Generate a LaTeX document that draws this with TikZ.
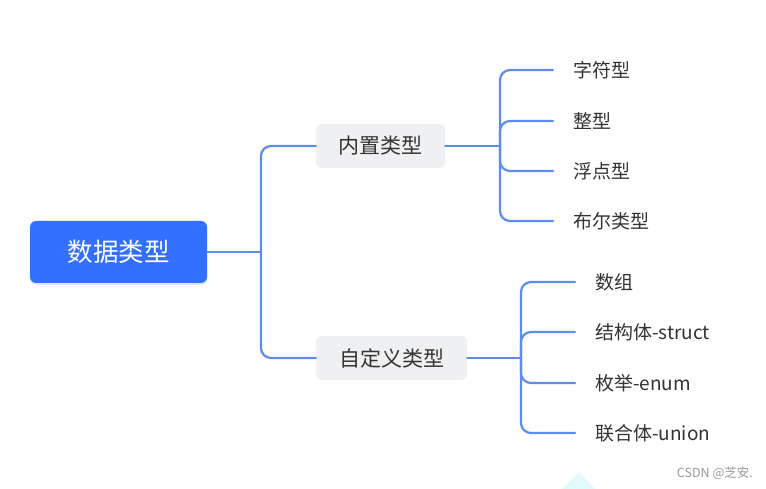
\documentclass[tikz,border=0pt]{standalone}
\usepackage{fontspec}
\setmainfont{Noto Sans CJK SC}
\usetikzlibrary{shadows}
\definecolor{rootblue}{HTML}{3370FF}
\definecolor{linkblue}{HTML}{5B8DEF}
\definecolor{boxgray}{HTML}{EFF0F2}
\definecolor{txtgray}{HTML}{333333}
\definecolor{markcyan}{HTML}{E3FAFA}
\begin{document}
\begin{tikzpicture}[x=1pt, y=-1pt, line join=round, line cap=round]
	\useasboundingbox[fill=white] (0,0) rectangle (766,489);
	\tikzset{
		rootbox/.style={fill=rootblue, text=white, rounded corners=6pt, minimum width=177pt, minimum height=62pt,
			drop shadow={shadow xshift=0pt, shadow yshift=-2pt, fill=rootblue, opacity=0.15},
			font=\fontsize{25.5}{30}\selectfont},
		midbox/.style={fill=boxgray, text=txtgray, rounded corners=6pt, minimum height=44pt, font=\fontsize{21}{25}\selectfont},
		leaf/.style={anchor=west, text=txtgray, inner xsep=20pt, inner ysep=0pt, font=\fontsize{19}{23}\selectfont},
		link/.style={draw=linkblue, line width=2.2pt, rounded corners=10pt}
	}
	\node[rootbox] (root) at (118.5,252) {数据类型};
	\node[midbox, minimum width=129pt] (builtin) at (380.5,146) {内置类型};
	\node[midbox, minimum width=151pt] (custom) at (391.5,358) {自定义类型};
	\coordinate (jroot) at (261,252);
	\coordinate (jbuiltin) at (500,146);
	\coordinate (jcustom) at (521,358);
	\draw[link] (root.east) -- (jroot) (builtin.east) -- (jbuiltin) (custom.east) -- (jcustom);
	\draw[link] (jroot) |- (builtin.west);
	\draw[link] (jroot) |- (custom.west);
	\foreach \name/\y/\txt in {char/70/字符型, int/121/整型, float/171/浮点型, bool/221/布尔类型}{
		\node[leaf] (\name) at (553,\y) {\txt};
		\draw[link] (jbuiltin) |- (\name.west);
	}
	\foreach \name/\y/\txt in {array/282/数组, struct/332/结构体-struct, enum/383/枚举-enum, union/433/联合体-union}{
		\node[leaf] (\name) at (575,\y) {\txt};
		\draw[link] (jcustom) |- (\name.west);
	}
	\fill[markcyan] (562,489) -- (579,472) -- (595,489) -- cycle;
	\node[anchor=east, text=gray!80, inner sep=0pt, font=\fontsize{12.5}{15}\selectfont] (mark) at (753,473) {CSDN @芝安.};
\end{tikzpicture}
\end{document}
